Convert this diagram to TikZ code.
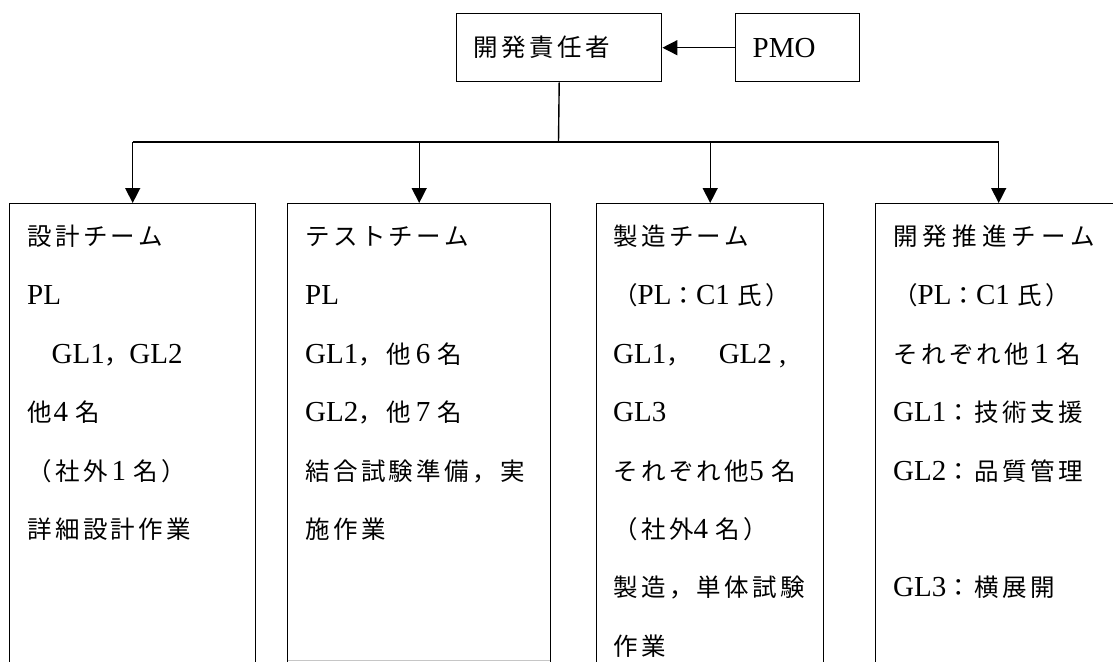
\documentclass[tikz,border=0pt]{standalone}
\usepackage{fontspec}
\setmainfont{Liberation Serif}
\newfontfamily\cjk[LetterSpace=14]{Noto Sans CJK JP}
\newfontfamily\cjkw[LetterSpace=21]{Noto Sans CJK JP}
\usetikzlibrary{arrows.meta}
\newcommand\J[1]{{\fontsize{24.5pt}{28pt}\selectfont\cjk #1}}
\newcommand\JW[1]{{\fontsize{24.5pt}{28pt}\selectfont\cjkw #1}}
\tikzset{
  box/.style={draw=black, line width=1.4pt, fill=white},
  teambox/.style={box, anchor=north west, minimum height=480pt, inner sep=0pt},
  txt/.style={anchor=base west, inner sep=0pt, font=\fontsize{29pt}{32pt}\selectfont},
  conn/.style={draw=black, line width=1.4pt},
  arr/.style={conn, -{Triangle[width=15pt,length=15pt]}},
}
\begin{document}
\begin{tikzpicture}[x=1pt, y=-1pt]
\useasboundingbox (0,0) rectangle (1113,661);
\fill[white] (0,0) rectangle (1113,661);
\clip (0,0) rectangle (1113,661);

% top boxes
\node[box, anchor=north west, minimum height=68pt, inner xsep=17pt, text width=171pt, align=left, font=\fontsize{29pt}{32pt}\selectfont] (chief) at (456,13) {\J{開発責任者}};
\node[box, anchor=north west, minimum height=68pt, inner xsep=17pt, text width=90pt, align=left, font=\fontsize{29pt}{32pt}\selectfont] (pmo) at (735,13) {PMO};
\draw[arr] (pmo.west) -- (chief.east);

% team boxes
\node[teambox, minimum width=246pt] (team1) at (9,203) {};
\node[teambox, minimum width=263pt] (team2) at (287,203) {};
\node[teambox, minimum width=227pt] (team3) at (596,203) {};
\node[teambox, minimum width=246pt] (team4) at (875,203) {};
\draw[gray!45, line width=1pt] ([xshift=1pt]team2.west |- 0,660.3) -- ([xshift=-1pt]team2.east |- 0,660.3);

% connectors
\coordinate (bus) at (558.5,142);
\draw[conn] (chief.south) -- (bus);
\draw[conn] (team1.north |- bus) -- (team4.north |- bus);
\draw[arr] (team1.north |- bus) -- (team1.north);
\draw[arr] (team2.north |- bus) -- (team2.north);
\draw[arr] (team3.north |- bus) -- (team3.north);
\draw[arr] (team4.north |- bus) -- (team4.north);

% team 1 text
\node[txt] (a1) at (27,245.5) {\J{設計チーム}};
\node[txt] (a2) at (27,304.9) {PL};
\node[txt] (a3) at (27,363.3) {\J{　}GL1\J{，}GL2};
\node[txt] (a4) at (27,421.7) {\J{他}\hspace{2pt}4 \J{名}};
\node[txt] (a5) at (27,480.1) {\J{（社外}\hspace{4pt}1 \J{名）}};
\node[txt] (a6) at (27,538.5) {\J{詳細設計作業}};

% team 2 text
\node[txt] (b1) at (305,245.5) {\J{テストチーム}};
\node[txt] (b2) at (305,304.9) {PL};
\node[txt] (b3) at (305,363.3) {GL1\J{，他}\hspace{5pt}6 \J{名}};
\node[txt] (b4) at (305,421.7) {GL2\J{，他}\hspace{5pt}7 \J{名}};
\node[txt] (b5) at (305,480.1) {\J{結合試験準備，実}};
\node[txt] (b6) at (305,538.5) {\J{施作業}};

% team 3 text
\node[txt] (c1) at (613,245.5) {\J{製造チーム}};
\node[txt] (c2) at (613,304.9) {\J{（}PL\J{：}C1 \J{氏）}};
\node[txt] (c3) at (613,363.3) {GL1\J{，　}GL2 ,};
\node[txt] (c4) at (613,421.7) {GL3};
\node[txt] (c5) at (613,480.1) {\J{それぞれ他}5 \J{名}};
\node[txt] (c6) at (613,538.5) {\J{（社外}4 \J{名）}};
\node[txt] (c7) at (613,596.9) {\J{製造，単体試験}};
\node[txt] (c8) at (613,655.3) {\J{作業}};

% team 4 text
\node[txt] (d1) at (893,245.5) {\JW{開発推進チーム}};
\node[txt] (d2) at (893,304.9) {\J{（}PL\J{：}C1 \J{氏）}};
\node[txt] (d3) at (893,363.3) {\J{それぞれ他}\hspace{5pt}1 \J{名}};
\node[txt] (d4) at (893,421.7) {GL1\J{：技術支援}};
\node[txt] (d5) at (893,480.1) {GL2\J{：品質管理}};
\node[txt] (d7) at (893,596.9) {GL3\J{：横展開}};
\end{tikzpicture}
\end{document}
